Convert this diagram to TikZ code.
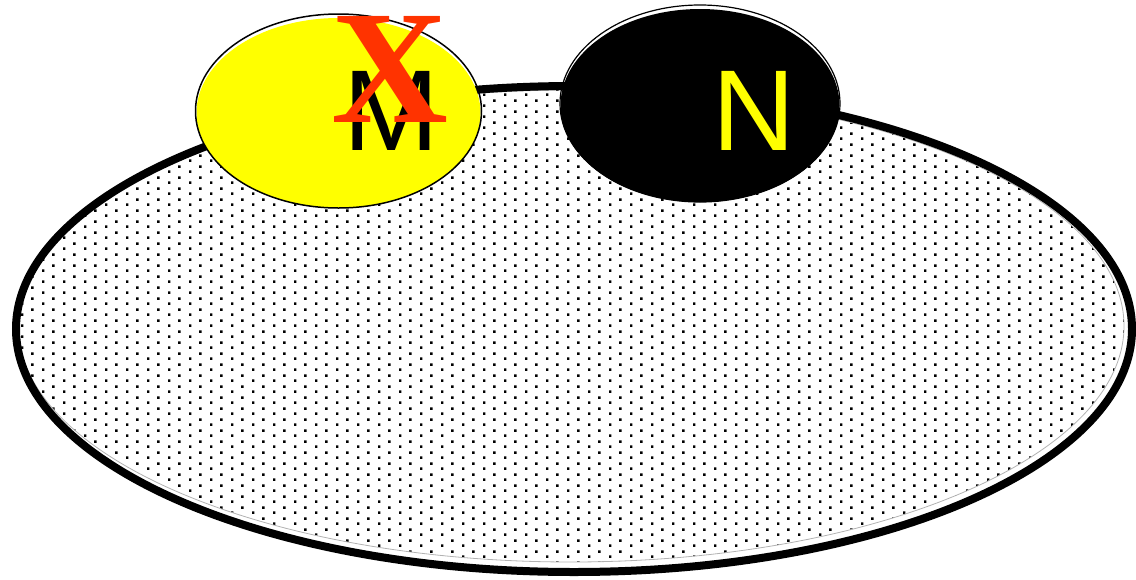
\documentclass[tikz,border=0pt]{standalone}
\usepackage{fontspec}
\setmainfont{Liberation Serif}
\setsansfont{Liberation Sans}
\usetikzlibrary{patterns}
\definecolor{xred}{HTML}{FF3300}
\definecolor{pureyellow}{HTML}{FFFF00}
\pgfdeclarepatternformonly{bigdots}{\pgfpointorigin}{\pgfpoint{21pt}{10.6pt}}{\pgfpoint{21pt}{10.6pt}}{%
  \pgfpathrectangle{\pgfpoint{0pt}{0pt}}{\pgfpoint{2.6pt}{2.6pt}}%
  \pgfpathrectangle{\pgfpoint{10.5pt}{5.3pt}}{\pgfpoint{2.6pt}{2.6pt}}%
  \pgfusepath{fill}}
\tikzset{
  outerborder/.style={draw=black, line width=8pt},
  innerline/.style={draw=black!30, line width=0.8pt},
  smalloutline/.style={draw=black, line width=1.5pt},
  biglabel/.style={font=\sffamily\fontsize{115}{115}\selectfont, anchor=base, inner sep=0pt},
  crosslabel/.style={font=\rmfamily\bfseries\fontsize{162}{162}\selectfont, text=xred, anchor=base, inner sep=0pt}
}
\begin{document}
\begin{tikzpicture}[x=1pt,y=-1pt]
\useasboundingbox (0,0) rectangle (1136,579);
% big dotted ellipse
\fill[pattern=bigdots, pattern color=black] (571,326) ellipse [x radius=553pt, y radius=236pt];
\path[innerline] (571,326) ellipse [x radius=553pt, y radius=236pt];
\path[outerborder] (574,329) ellipse [x radius=558pt, y radius=243pt];
% yellow ellipse
\fill[pureyellow] (338.5,113) ellipse [x radius=142pt, y radius=95pt];
\path[smalloutline] (338.5,111) ellipse [x radius=143pt, y radius=97pt];
% black ellipse
\fill[black] (700,105.5) ellipse [x radius=139.5pt, y radius=96.5pt];
\path[draw=black, line width=1.2pt] (700,103.5) ellipse [x radius=140pt, y radius=98.5pt];
% labels
\node[biglabel, text=black] (M) at (391,150) {M};
\node[biglabel, text=pureyellow] (N) at (754,150) {N};
\node[crosslabel] (X) at (389.5,122) {X};
\end{tikzpicture}
\end{document}
